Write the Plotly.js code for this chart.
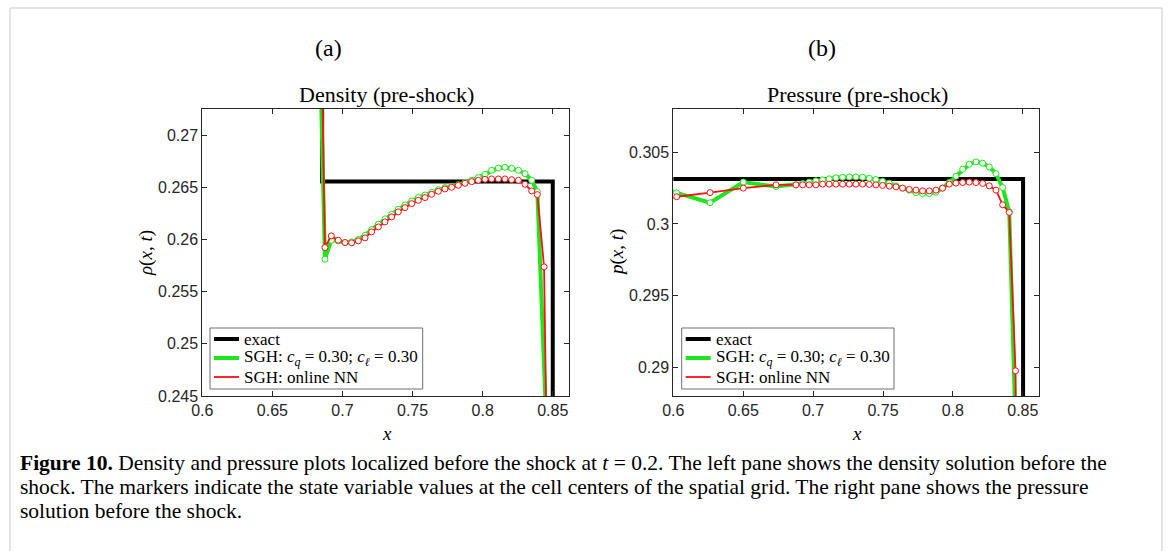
<!DOCTYPE html>
<html>
<head>
<meta charset="utf-8">
<script src="https://cdn.plot.ly/plotly-3.0.1.min.js"></script>
<style>html,body{margin:0;padding:0;background:#fff;}#chart{width:1173px;height:551px;}</style>
</head>
<body>
<div id="chart"></div>
<script>
// ---------- Data ----------
// Density panel (a)
const densExactX = [0.6855, 0.6855, 0.8500, 0.8500];
const densExactY = [0.4263, 0.26557, 0.26557, 0.1250];

const densGreenX = [0.6800, 0.6875, 0.6920, 0.6970, 0.7018, 0.7065, 0.7113, 0.7161, 0.7208, 0.7256, 0.7303,
  0.7351, 0.7398, 0.7446, 0.7494, 0.7541, 0.7589, 0.7636, 0.7684, 0.7731, 0.7779, 0.7826, 0.7874,
  0.7922, 0.7969, 0.8017, 0.8064, 0.8112, 0.8159, 0.8207, 0.8255, 0.8302, 0.8350, 0.8390, 0.8475];
const densGreenY = [0.3000, 0.25812, 0.25994, 0.25988, 0.25972, 0.25978, 0.26001, 0.26042, 0.26096, 0.26148, 0.26199,
  0.26243, 0.26291, 0.26333, 0.26371, 0.26403, 0.26428, 0.26454, 0.26480, 0.26499, 0.26511, 0.26527, 0.26547,
  0.26569, 0.26595, 0.26626, 0.26665, 0.26687, 0.26694, 0.26684, 0.26665, 0.26633, 0.26569, 0.26460, 0.2350];

const densRedX = [0.6824, 0.6875, 0.6920, 0.6970, 0.7018, 0.7065, 0.7113, 0.7161, 0.7208, 0.7256, 0.7303,
  0.7351, 0.7398, 0.7446, 0.7494, 0.7541, 0.7589, 0.7636, 0.7684, 0.7731, 0.7779, 0.7826, 0.7874,
  0.7922, 0.7969, 0.8017, 0.8064, 0.8112, 0.8159, 0.8207, 0.8255, 0.8302, 0.8350, 0.8390, 0.8438, 0.8500];
const densRedY = [0.3000, 0.25924, 0.26036, 0.25994, 0.25972, 0.25969, 0.25988, 0.26017, 0.26074, 0.26122, 0.26170,
  0.26218, 0.26266, 0.26307, 0.26345, 0.26377, 0.26403, 0.26435, 0.26464, 0.26486, 0.26502, 0.26521, 0.26540,
  0.26556, 0.26569, 0.26579, 0.26582, 0.26582, 0.26582, 0.26575, 0.26569, 0.26531, 0.26467, 0.26432, 0.25739, 0.2000];

// Pressure panel (b)
const presExactX = [0.5500, 0.8502, 0.8502];
const presExactY = [0.30313, 0.30313, 0.2000];

const presGreenX = [0.5790, 0.6024, 0.6263, 0.6501, 0.6735, 0.6877, 0.6925, 0.6972, 0.7020, 0.7068, 0.7115,
  0.7163, 0.7211, 0.7259, 0.7306, 0.7354, 0.7402, 0.7449, 0.7497, 0.7545, 0.7593, 0.7640, 0.7688,
  0.7736, 0.7783, 0.7831, 0.7879, 0.7926, 0.7974, 0.8022, 0.8070, 0.8117, 0.8165, 0.8213, 0.8260,
  0.8308, 0.8356, 0.8403, 0.8466];
const presGreenY = [0.3030, 0.30217, 0.30148, 0.30292, 0.30261, 0.30273, 0.30282, 0.30292, 0.30301, 0.30308, 0.30315,
  0.30322, 0.30326, 0.30328, 0.30328, 0.30326, 0.30319, 0.30310, 0.30298, 0.30285, 0.30266, 0.30250, 0.30236,
  0.30219, 0.30212, 0.30212, 0.30222, 0.30250, 0.30289, 0.30333, 0.30382, 0.30417, 0.30433, 0.30424, 0.30398,
  0.30351, 0.30254, 0.30085, 0.2800];

const presRedX = [0.5790, 0.6024, 0.6263, 0.6501, 0.6735, 0.6877, 0.6925, 0.6972, 0.7020, 0.7068, 0.7115,
  0.7163, 0.7211, 0.7259, 0.7306, 0.7354, 0.7402, 0.7449, 0.7497, 0.7545, 0.7593, 0.7640, 0.7688,
  0.7736, 0.7783, 0.7831, 0.7879, 0.7926, 0.7974, 0.8022, 0.8070, 0.8117, 0.8165, 0.8213, 0.8260,
  0.8308, 0.8356, 0.8403, 0.8448, 0.8470];
const presRedY = [0.3012, 0.30190, 0.30219, 0.30250, 0.30273, 0.30273, 0.30273, 0.30273, 0.30273, 0.30278, 0.30278,
  0.30278, 0.30278, 0.30278, 0.30278, 0.30278, 0.30276, 0.30273, 0.30269, 0.30264, 0.30259, 0.30250, 0.30241,
  0.30236, 0.30231, 0.30231, 0.30236, 0.30250, 0.30278, 0.30285, 0.30289, 0.30292, 0.30289, 0.30283, 0.30266,
  0.30236, 0.30134, 0.30081, 0.28976, 0.2400];

// Tick labels
const xTickVals = [0.6, 0.65, 0.7, 0.75, 0.8, 0.85];
const xTickText = ["0.6", "0.65", "0.7", "0.75", "0.8", "0.85"];
const densTickVals = [0.245, 0.25, 0.255, 0.26, 0.265, 0.27];
const densTickText = ["0.245", "0.25", "0.255", "0.26", "0.265", "0.27"];
const presTickVals = [0.29, 0.295, 0.3, 0.305];
const presTickText = ["0.29", "0.295", "0.3", "0.305"];

// Legend labels
const legendNames = ["exact", "SGH: <i>c</i><sub><i>q</i></sub> = 0.30; <i>c</i><sub><i>ℓ</i></sub> = 0.30", "SGH: online NN"];

// ---------- Styles ----------
const W = 1173, H = 551;
const BLACK = "#000000", GREEN = "#1ee61e", RED = "#ff1010";
const AX = "#262626";
const SANS = "Liberation Sans, Arial, sans-serif";
const SERIF = "Liberation Serif, Times New Roman, serif";
const px = v => v / W;
const py = v => (H - v) / H;

function series(x, y, color, width, xa, ya) {
  return {x: x, y: y, xaxis: xa, yaxis: ya, type: "scatter", mode: "lines+markers", showlegend: false,
    line: {color: color, width: width}, cliponaxis: true,
    marker: {symbol: "circle", size: 6, color: "#ffffff", line: {color: color, width: 1}}};
}
function exact(x, y, xa, ya) {
  return {x: x, y: y, xaxis: xa, yaxis: ya, type: "scatter", mode: "lines", showlegend: false,
    line: {color: BLACK, width: 4}};
}

const traces = [
  exact(densExactX, densExactY, "x", "y"),
  series(densGreenX, densGreenY, GREEN, 4, "x", "y"),
  series(densRedX, densRedY, RED, 1.8, "x", "y"),
  exact(presExactX, presExactY, "x2", "y2"),
  series(presGreenX, presGreenY, GREEN, 4, "x2", "y2"),
  series(presRedX, presRedY, RED, 1.8, "x2", "y2")
];

function axisBase() {
  return {showgrid: false, zeroline: false, showline: true, mirror: "allticks", ticks: "inside",
    ticklen: 5, tickwidth: 1, tickcolor: AX, linecolor: AX, linewidth: 1,
    tickfont: {family: SANS, size: 16, color: AX}, tickmode: "array", fixedrange: true};
}
const xa1 = Object.assign(axisBase(), {domain: [px(202.3), px(569.3)], range: [0.6, 0.8618], tickvals: xTickVals, ticktext: xTickText, anchor: "y"});
const ya1 = Object.assign(axisBase(), {domain: [py(396), py(109.3)], range: [0.245, 0.2725], tickvals: densTickVals, ticktext: densTickText, anchor: "x"});
const xa2 = Object.assign(axisBase(), {domain: [px(673.3), px(1039.3)], range: [0.6, 0.8618], tickvals: xTickVals, ticktext: xTickText, anchor: "y2"});
const ya2 = Object.assign(axisBase(), {domain: [py(396), py(109.3)], range: [0.288, 0.308], tickvals: presTickVals, ticktext: presTickText, anchor: "x2"});

function ann(text, x, y, size, opts) {
  return Object.assign({text: text, x: px(x), y: py(y), xref: "paper", yref: "paper", showarrow: false,
    xanchor: "center", yanchor: "middle", font: {family: SERIF, size: size, color: "#000"}}, opts || {});
}

// Legend boxes (drawn as shapes + text), one per panel
const legendColors = [BLACK, GREEN, RED];
const legendWidths = [4, 4, 1.8];
const legendRows = [339, 358, 377];
const shapes = [{type: "rect", xref: "paper", yref: "paper", x0: px(10), x1: px(1162), y0: py(600), y1: py(8),
  line: {color: "#c8c8c8", width: 1}, fillcolor: "rgba(0,0,0,0)", layer: "below"}];
const annotations = [];
function addLegend(left, right) {
  shapes.push({type: "rect", xref: "paper", yref: "paper", x0: px(left), x1: px(right), y0: py(389), y1: py(328),
    line: {color: "#6e6e6e", width: 1}, fillcolor: "#ffffff", layer: "above"});
  legendNames.forEach((name, i) => {
    shapes.push({type: "line", xref: "paper", yref: "paper", x0: px(left + 4), x1: px(left + 29),
      y0: py(legendRows[i]), y1: py(legendRows[i]), line: {color: legendColors[i], width: legendWidths[i]}, layer: "above"});
    annotations.push(ann(name, left + 32, legendRows[i], 17, {xanchor: "left"}));
  });
}
addLegend(210, 422.7);
addLegend(681.7, 894);

const capFont = {family: SERIF, size: 21.5, color: "#000"};
annotations.push(
  ann("(a)", 328, 48, 24),
  ann("(b)", 822, 48, 24),
  ann("Density (pre-shock)", 386, 94, 22),
  ann("Pressure (pre-shock)", 857, 94, 22),
  ann("<i>ρ</i>(<i>x</i>, <i>t</i>)", 146, 253, 19, {textangle: -90}),
  ann("<i>p</i>(<i>x</i>, <i>t</i>)", 617, 253, 19, {textangle: -90}),
  ann("<i>x</i>", 387, 433, 19),
  ann("<i>x</i>", 857, 433, 19),
  ann("<b>Figure 10.</b> Density and pressure plots localized before the shock at <i>t</i> = 0.2. The left pane shows the density solution before the", 18, 463, 21.5, {xanchor: "left", font: capFont}),
  ann("shock. The markers indicate the state variable values at the cell centers of the spatial grid. The right pane shows the pressure", 18, 487, 21.5, {xanchor: "left", font: capFont}),
  ann("solution before the shock.", 18, 511, 21.5, {xanchor: "left", font: capFont})
);

const layout = {
  width: W, height: H, margin: {l: 0, r: 0, t: 0, b: 0},
  paper_bgcolor: "#ffffff", plot_bgcolor: "#ffffff", showlegend: false,
  xaxis: xa1, yaxis: ya1, xaxis2: xa2, yaxis2: ya2,
  annotations: annotations,
  shapes: shapes
};

Plotly.newPlot("chart", traces, layout, {staticPlot: true, displayModeBar: false});
</script>
</body>
</html>
